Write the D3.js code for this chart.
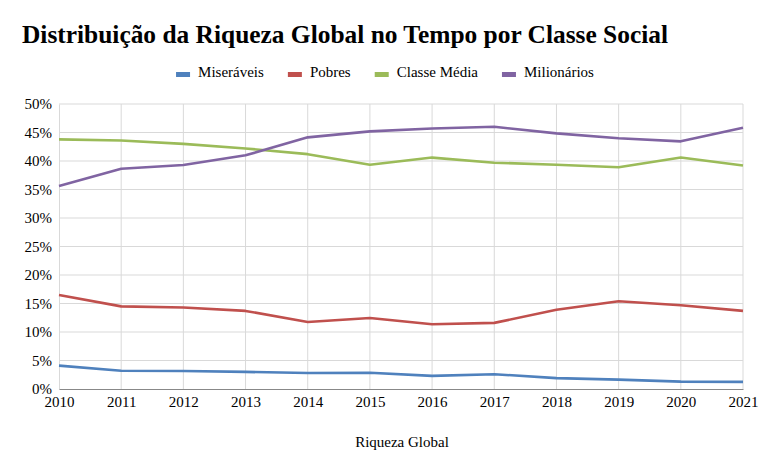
<!DOCTYPE html>
<html><head><meta charset="utf-8">
<script src="https://cdn.jsdelivr.net/npm/d3@7"></script>
<style>body{margin:0;background:#fff}svg{display:block;font-family:"Liberation Serif","Times New Roman",serif}</style>
</head><body><svg id="c" width="768" height="475"></svg>
<script>
const years = [2010,2011,2012,2013,2014,2015,2016,2017,2018,2019,2020,2021];
const seriesNames = ["Miseráveis","Pobres","Classe Média","Milionários"];
const miseraveis = [4.1,3.2,3.15,3.0,2.8,2.85,2.3,2.6,1.9,1.65,1.3,1.25];
const pobres = [16.5,14.5,14.3,13.7,11.75,12.45,11.35,11.6,13.9,15.4,14.7,13.7];
const classeMedia = [43.8,43.6,43.0,42.2,41.2,39.35,40.6,39.7,39.35,38.9,40.6,39.2];
const milionarios = [35.6,38.65,39.3,41.0,44.15,45.2,45.7,46.0,44.85,44.0,43.45,45.85];
const yTicks = [0,5,10,15,20,25,30,35,40,45,50];
const colors = ["#4f81bd","#c0504d","#9bbb59","#8064a2"];
const title = "Distribuição da Riqueza Global no Tempo por Classe Social";
const xTitle = "Riqueza Global";

const data = [miseraveis,pobres,classeMedia,milionarios];
const svg = d3.select("#c");
const x = d3.scaleLinear().domain([2010,2021]).range([59,743]);
const y = d3.scaleLinear().domain([0,50]).range([389,104]);

svg.append("text").attr("x",22).attr("y",43).attr("font-size",26).attr("font-weight","bold").attr("fill","#000")
  .attr("textLength",646).attr("lengthAdjust","spacingAndGlyphs").text(title);

// grid
svg.append("g").selectAll("line").data(yTicks.slice(1)).join("line")
  .attr("x1",x(2010)).attr("x2",x(2021)).attr("y1",d=>y(d)).attr("y2",d=>y(d))
  .attr("stroke","#d9d9d9").attr("stroke-width",1);
svg.append("g").selectAll("line").data(years.slice(1)).join("line")
  .attr("x1",d=>x(d)).attr("x2",d=>x(d)).attr("y1",y(0)).attr("y2",y(50))
  .attr("stroke","#d9d9d9").attr("stroke-width",1);

// axes
const yAxis = d3.axisLeft(y).tickValues(yTicks).tickFormat(d=>d+"%").tickSize(0).tickPadding(7);
const gy = svg.append("g").attr("transform",`translate(${x(2010)},0)`).call(yAxis);
gy.select(".domain").attr("stroke","#d9d9d9");
gy.selectAll("text").attr("font-size",15).attr("fill","#000").attr("font-family","Liberation Serif");

const xAxis = d3.axisBottom(x).tickValues(years).tickFormat(d3.format("d")).tickSize(0).tickPadding(7);
const gx = svg.append("g").attr("transform",`translate(0,${y(0)})`).call(xAxis);
gx.select(".domain").attr("stroke","#888").attr("stroke-width",1.2);
gx.selectAll("text").attr("font-size",15).attr("fill","#000").attr("font-family","Liberation Serif");

// lines
const line = d3.line().x((d,i)=>x(years[i])).y(d=>y(d));
svg.append("g").selectAll("path").data(data).join("path")
  .attr("d",line).attr("fill","none").attr("stroke",(d,i)=>colors[i]).attr("stroke-width",2.6)
  .attr("stroke-linejoin","round");

// x title
svg.append("text").attr("x",402).attr("y",447).attr("text-anchor","middle").attr("font-size",15).attr("fill","#000").text(xTitle);

// legend
const lg = svg.append("g");
let cx = 0;
seriesNames.forEach((n,i)=>{
  const g = lg.append("g");
  g.append("rect").attr("x",0).attr("y",-5).attr("width",14).attr("height",5).attr("fill",colors[i]);
  const t = g.append("text").attr("x",22).attr("y",0).attr("font-size",15).attr("fill","#000").text(n);
  const w = 22 + t.node().getComputedTextLength();
  g.attr("transform",`translate(${cx},0)`);
  cx += w + 24;
});
const total = cx - 24;
lg.attr("transform",`translate(${385 - total/2},77)`);
</script></body></html>
